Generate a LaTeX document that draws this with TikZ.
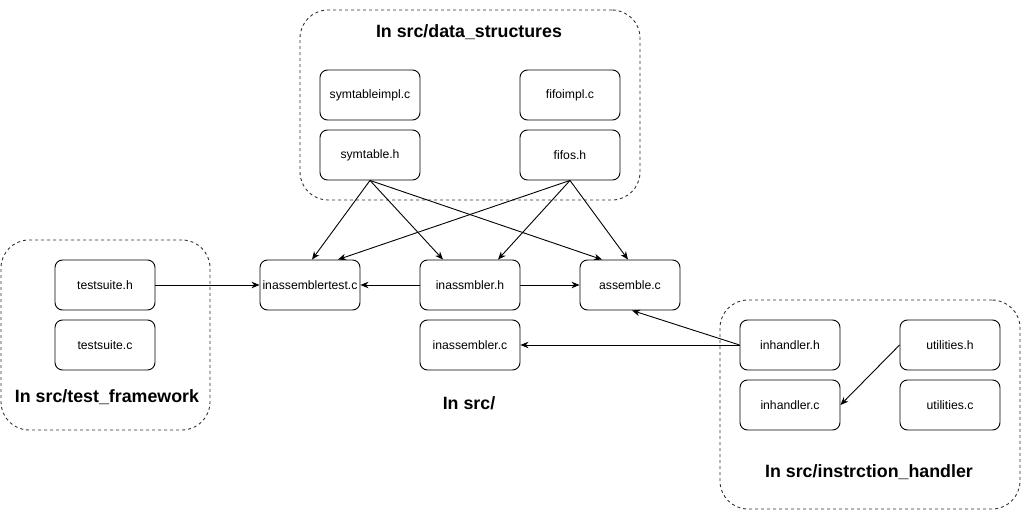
\documentclass[tikz,border=0pt]{standalone}
\usepackage{fontspec}
\setmainfont{Liberation Sans}
\usetikzlibrary{arrows.meta}
\tikzset{
  filebox/.style={draw, rounded corners=7.5pt, minimum width=100pt, minimum height=50pt,
    font=\fontsize{12.2}{14}\selectfont, line width=0.9pt, inner sep=0pt},
  grp/.style={draw=black!80, dash pattern=on 3pt off 3pt, rounded corners=28pt, line width=0.9pt, inner sep=0pt},
  ttl/.style={font=\bfseries\fontsize{17.8}{20}\selectfont, inner sep=0pt},
  arr/.style={-{Stealth[length=8pt,width=6.5pt,inset=2.5pt]}, line width=0.9pt}
}
\begin{document}
\begin{tikzpicture}[x=1pt,y=-1pt]
\useasboundingbox (0,0) rectangle (1029,511);
% groups
\node[grp, minimum width=340pt, minimum height=190pt] (gds) at (470,105) {};
\node[grp, minimum width=209pt, minimum height=190pt] (gtf) at (105.5,335) {};
\node[grp, minimum width=300pt, minimum height=209pt] (gih) at (870,404.5) {};
% titles
\node[ttl] (tds) at (469,32) {In src/data\_structures};
\node[ttl] (ttf) at (107,397) {In src/test\_framework};
\node[ttl] (tsrc) at (469,403) {In src/};
\node[ttl] (tih) at (869,472) {In src/instrction\_handler};
% files
\node[filebox] (symimpl) at (370,95) {symtableimpl.c};
\node[filebox] (fifoimpl) at (570,95) {fifoimpl.c};
\node[filebox] (symh) at (370,155) {symtable.h};
\node[filebox] (fifoh) at (570,155) {fifos.h};
\node[filebox] (tsh) at (105,285) {testsuite.h};
\node[filebox] (tsc) at (105,345) {testsuite.c};
\node[filebox] (iat) at (310,285) {inassemblertest.c};
\node[filebox] (iah) at (470,285) {inassmbler.h};
\node[filebox] (asm) at (630,285) {assemble.c};
\node[filebox] (iac) at (470,345) {inassembler.c};
\node[filebox] (ihh) at (790,345) {inhandler.h};
\node[filebox] (uth) at (950,345) {utilities.h};
\node[filebox] (ihc) at (790,405) {inhandler.c};
\node[filebox] (utc) at (950,405) {utilities.c};
% connectors
\draw[arr] (symh.south) -- ([xshift=2pt]iat.north);
\draw[arr] (symh.south) -- ([xshift=-27pt]iah.north);
\draw[arr] (symh.south) -- ([xshift=-28pt]asm.north);
\draw[arr] (fifoh.south) -- ([xshift=28pt]iat.north);
\draw[arr] (fifoh.south) -- ([xshift=28pt]iah.north);
\draw[arr] (fifoh.south) -- ([xshift=-2pt]asm.north);
\draw[arr] (tsh.east) -- (iat.west);
\draw[arr] (iah.west) -- (iat.east);
\draw[arr] (iah.east) -- (asm.west);
\draw[arr] (ihh.west) -- (iac.east);
\draw[arr] (ihh.west) -- ([xshift=2pt]asm.south);
\draw[arr] (uth.west) -- (ihc.east);
\end{tikzpicture}
\end{document}
